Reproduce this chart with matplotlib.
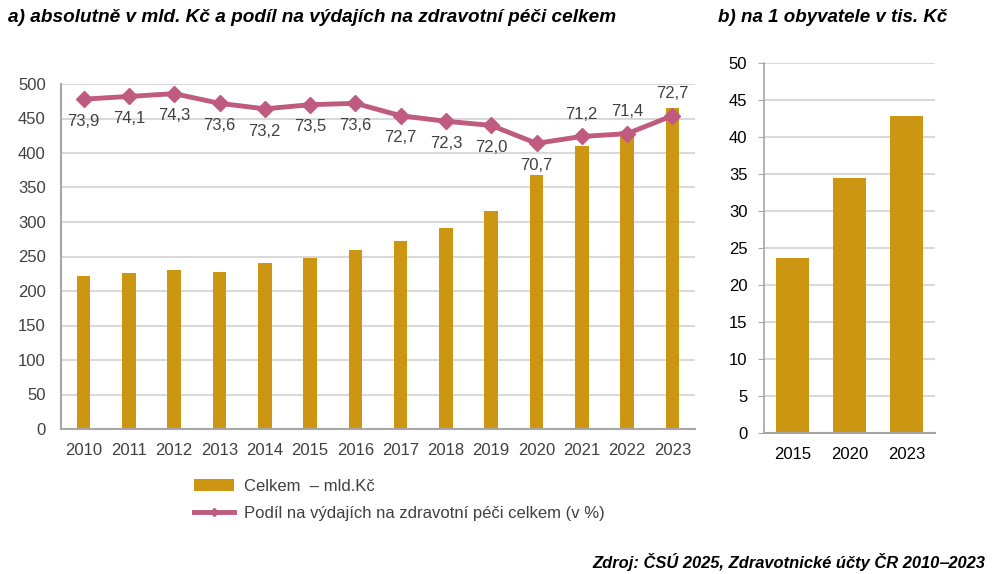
import matplotlib
matplotlib.use("Agg")
import matplotlib.pyplot as plt
from matplotlib.lines import Line2D
from matplotlib.patches import Patch
import numpy as np

plt.rcParams['font.family'] = ['Liberation Sans', 'DejaVu Sans']

years = ["2010", "2011", "2012", "2013", "2014", "2015", "2016", "2017",
         "2018", "2019", "2020", "2021", "2022", "2023"]
celkem = [222, 226, 230, 228, 241, 248, 259, 272, 291, 316, 368, 410, 432, 465]
podil = [73.9, 74.1, 74.3, 73.6, 73.2, 73.5, 73.6, 72.7, 72.3, 72.0, 70.7, 71.2, 71.4, 72.7]
label_above = [False]*11 + [True, True, True]

years_b = ["2015", "2020", "2023"]
per_capita = [23.6, 34.5, 42.8]

BAR = "#CC9612"
LINE = "#BE5B7E"
GRID = "#D9D9D9"
SPINE = "#A6A6A6"

W, H = 992, 574
fig = plt.figure(figsize=(W/100, H/100), dpi=100)

# ---- left chart
ax = fig.add_axes([61/W, 1-429/H, (695-61)/W, 345/H])
x = np.arange(len(years))
ax.bar(x, celkem, width=0.30, color=BAR, zorder=2)
ax.set_xlim(-0.5, len(years)-0.5)
ax.set_ylim(0, 500)
ax.set_yticks(range(0, 501, 50))
ax.set_xticks(x)
ax.set_xticklabels(years)
ax.yaxis.grid(True, color=GRID, linewidth=1.5, zorder=0)
ax.set_axisbelow(True)
for s in ["top", "right"]:
    ax.spines[s].set_visible(False)
ax.spines["left"].set_color(SPINE)
ax.spines["bottom"].set_color(SPINE)
ax.spines["left"].set_linewidth(1.5)
ax.spines["bottom"].set_linewidth(1.5)
ax.tick_params(axis="x", length=0, labelsize=12, labelcolor="#404040", pad=10)
ax.tick_params(axis="y", length=0, labelsize=12, labelcolor="#404040", pad=11)

ax2 = ax.twinx()
ax2.set_ylim(50, 75)
ax2.plot(x, podil, color=LINE, linewidth=3.5, marker="D", markersize=8.5, zorder=3)
ax2.axis("off")
for xi, v, up in zip(x, podil, label_above):
    ax2.annotate(f"{v:.1f}".replace(".", ","), (xi, v),
                 xytext=(0, 16 if up else -16), textcoords="offset points",
                 ha="center", va="center", fontsize=12, color="#404040")

fig.text(8/W, 1-17/H, "a) absolutně v mld. Kč a podíl na výdajích na zdravotní péči celkem",
         fontsize=13.7, fontweight="bold", fontstyle="italic", va="center", ha="left", color="black")

handles = [Patch(facecolor=BAR, edgecolor="none"),
           Line2D([0], [0], color=LINE, linewidth=3.5, marker="D", markersize=4)]
fig.legend(handles, ["Celkem  – mld.Kč", "Podíl na výdajích na zdravotní péči celkem (v %)"],
           loc="upper left", bbox_to_anchor=(179/W, 1-464/H), frameon=False,
           fontsize=12, labelcolor="#404040", handlelength=2.4, handleheight=0.7,
           labelspacing=0.7, handletextpad=0.6)

# ---- right chart
bx = fig.add_axes([764/W, 1-433/H, 171/W, 370/H])
xb = np.arange(len(years_b))
bx.bar(xb, per_capita, width=0.57, color=BAR, zorder=2)
bx.set_xlim(-0.5, len(years_b)-0.5)
bx.set_ylim(0, 50)
bx.set_yticks(range(0, 51, 5))
bx.set_xticks(xb)
bx.set_xticklabels(years_b)
bx.yaxis.grid(True, color=GRID, linewidth=1.5, zorder=0)
bx.set_axisbelow(True)
for s in ["top", "right"]:
    bx.spines[s].set_visible(False)
bx.spines["left"].set_color(SPINE)
bx.spines["bottom"].set_color(SPINE)
bx.spines["left"].set_linewidth(1.2)
bx.spines["bottom"].set_linewidth(1.5)
bx.tick_params(axis="y", length=4, color=SPINE, labelsize=12, labelcolor="black", pad=8)
bx.tick_params(axis="x", length=0, labelsize=12, labelcolor="black", pad=10)

fig.text(718/W, 1-17/H, "b) na 1 obyvatele v tis. Kč",
         fontsize=13.5, fontweight="bold", fontstyle="italic", va="center", ha="left", color="black")

fig.text(985/W, 1-562/H, "Zdroj: ČSÚ 2025, Zdravotnické účty ČR 2010‒2023",
         fontsize=11.9, fontweight="bold", fontstyle="italic", va="center", ha="right", color="black")

fig.savefig("out.png", dpi=100)
